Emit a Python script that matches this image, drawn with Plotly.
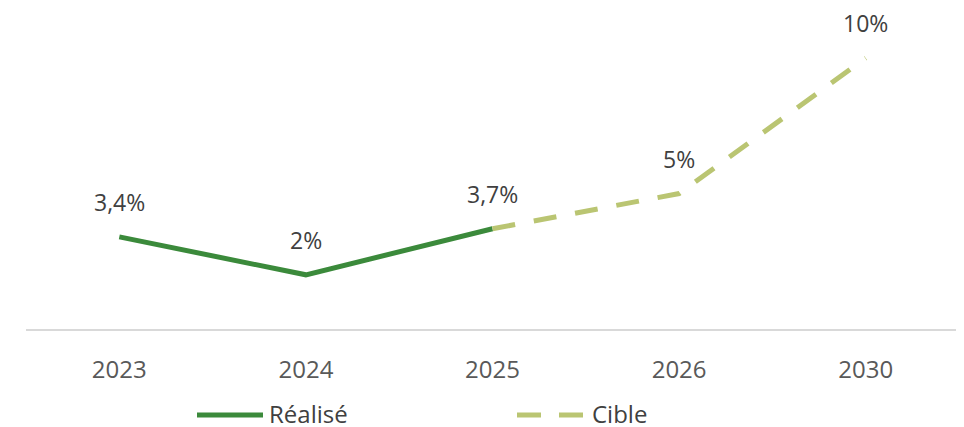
import plotly.graph_objects as go

categories = ["2023", "2024", "2025", "2026", "2030"]
realise_x = ["2023", "2024", "2025"]
realise_y = [3.4, 2.0, 3.7]
cible_x = ["2025", "2026", "2030"]
cible_y = [3.7, 5.0, 10.0]

label_x = ["2023", "2024", "2025", "2026", "2030"]
label_y = [3.4, 2.0, 3.7, 5.0, 10.0]

series_names = ["Réalisé", "Cible"]

def fmt(v):
    return f"{v:g}".replace(".", ",") + "%"

FONT = "Open Sans, Inter, sans-serif"
DARK = "#3b8a3b"
LIGHT = "#bac572"
OFF = 8  # default page body margin
W, H = 964 - OFF, 427
ML, MR, MT, MB = 26 - OFF, 5, 31 - OFF, 98 + OFF
PW, PH = W - ML - MR, H - MT - MB

def px(xp):
    return (xp - OFF - ML) / PW

def py(yp):
    return (H - MB - (yp - OFF)) / PH

fig = go.Figure()
fig.add_trace(go.Scatter(x=realise_x, y=realise_y, mode="lines", name=series_names[0],
                         line=dict(color=DARK, width=5), showlegend=False))
fig.add_trace(go.Scatter(x=cible_x, y=cible_y, mode="lines", name=series_names[1],
                         line=dict(color=LIGHT, width=5, dash="23px,19px"), showlegend=False))

for x, y in zip(label_x, label_y):
    fig.add_annotation(x=categories.index(x), y=y, text=fmt(y), showarrow=False, yshift=35,
                       font=dict(family=FONT, size=23, color="#404040"))

# custom legend
fig.add_shape(type="line", xref="paper", yref="paper", x0=px(197), x1=px(263),
              y0=py(415), y1=py(415), line=dict(color=DARK, width=5))
fig.add_shape(type="line", xref="paper", yref="paper", x0=px(517), x1=px(583),
              y0=py(415), y1=py(415), line=dict(color=LIGHT, width=5, dash="24px,18px"))
fig.add_annotation(xref="paper", yref="paper", x=px(268), y=py(414), text=series_names[0],
                   showarrow=False, xanchor="left", yanchor="middle", borderpad=0,
                   font=dict(family=FONT, size=24, color="#404040"))
fig.add_annotation(xref="paper", yref="paper", x=px(591), y=py(414), text=series_names[1],
                   showarrow=False, xanchor="left", yanchor="middle", borderpad=0,
                   font=dict(family=FONT, size=24, color="#404040"))

fig.update_layout(
    width=W, height=H,
    margin=dict(l=ML, r=MR, t=MT, b=MB, autoexpand=False),
    paper_bgcolor="white", plot_bgcolor="white",
    font=dict(family=FONT, size=24, color="#595959"),
    xaxis=dict(type="category", categoryorder="array", categoryarray=categories,
               range=[-0.5, len(categories) - 0.5],
               showgrid=False, showline=True, linecolor="#d9d9d9", linewidth=2,
               ticks="", ticklabelstandoff=18, tickfont=dict(size=24, color="#595959"),
               zeroline=False),
    yaxis=dict(range=[0, 11], visible=False, showgrid=False, zeroline=False),
    showlegend=False,
)

fig.write_html("out.html")
